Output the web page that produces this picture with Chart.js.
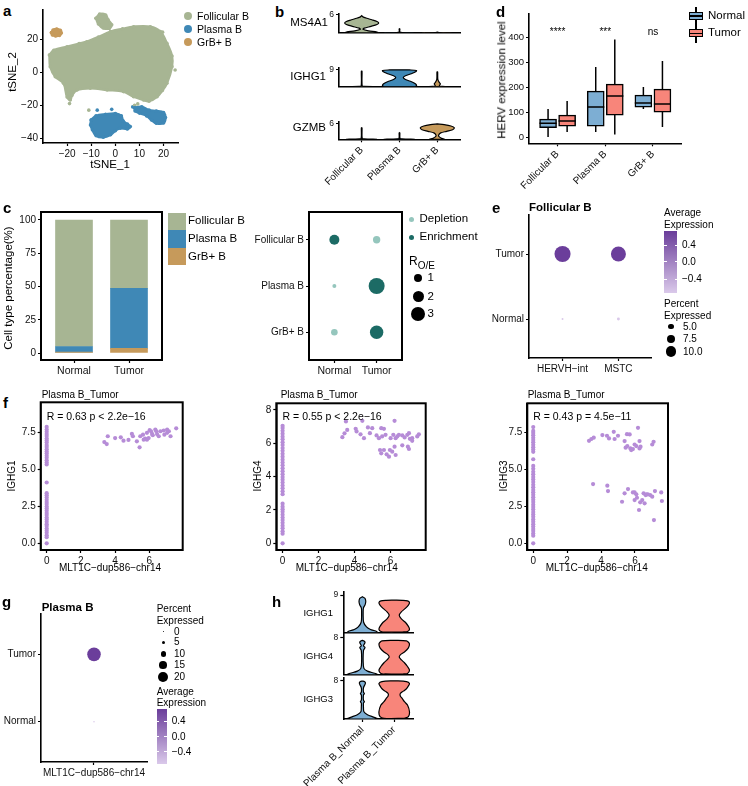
<!DOCTYPE html>
<html>
<head>
<meta charset="utf-8">
<title>HERV expression in B cells</title>
<script src="https://cdn.jsdelivr.net/npm/chart.js@4.4.1/dist/chart.umd.min.js"></script>
<style>
  html, body { margin: 0; padding: 0; background: #fff; }
  body { position: relative; width: 748px; height: 786px; overflow: hidden; font-family: "Liberation Sans", Arial, sans-serif; color: #000; }
  canvas { position: absolute; }
  .t { position: absolute; white-space: nowrap; line-height: 1; }
  .k { position: absolute; }
</style>
</head>
<body>
<script>
// ─────────────────────────────────────────
// DATA
// ─────────────────────────────────────────

const cellTypes  = ["Follicular B", "Plasma B", "GrB+ B"];
const conditions = ["Normal", "Tumor"];

// a — tSNE cluster outlines (tSNE_1, tSNE_2)
const tsneXTicks = [-20, -10, 0, 10, 20];
const tsneYTicks = [-40, -20, 0, 20];
const follicularCloud  = [[-27.3,10.6],[-25.5,13.5],[-20,15.6],[-15,17.5],[-11.8,18.7],[-7,21.5],[-2,24.8],[3,26.5],[7.6,27.8],[14.5,27.8],[18.7,24.8],[21.4,17.7],[23.5,10],[23.5,3.5],[21.4,-6.6],[19.5,-11],[17.3,-14.8],[14,-17.5],[11.7,-16.8],[7.6,-14.8],[3.4,-11.7],[-3.4,-10.7],[-10.4,-9.7],[-15.9,-10.7],[-18,-14],[-18.7,-16.8],[-20,-15],[-21.5,-6.6],[-24.9,-2.6],[-27,3.5]];
const follicularIsland = [[-8,33],[-6.5,35.5],[-4,35],[-3,32],[-1.5,29],[-2.5,26.8],[-5,27],[-7,29.5]];
const grbCloud         = [[-26.5,24.2],[-25.8,25.8],[-24.3,26.4],[-22.8,25.6],[-22.4,24],[-23.2,22.5],[-24.8,22.2],[-26.1,22.8]];
const plasmaCloud      = [[-10,-29],[-8,-26.5],[-4,-25.5],[0,-25],[2.5,-26.5],[3.2,-29.5],[5,-31.5],[6.2,-33],[5,-34.5],[2,-34],[0,-35.5],[-2,-38],[-5,-39.5],[-8,-38.5],[-9.5,-35],[-10.3,-32]];
const plasmaTail       = [[8,-21.5],[11,-21],[14,-23],[17,-23.5],[20,-24.5],[20.8,-27.5],[20,-30.8],[17,-31],[15,-29],[13,-26.5],[10,-24.8],[8.2,-23.5]];
const follicularStray  = [[-19,-19],[8,-20],[9.3,-19.2],[24.8,1.5],[19.6,24.5],[-11,-23]];
const plasmaStray      = [[-7.5,-23],[-1.5,-22.5],[7.2,-21]];

// b — stacked violins: levels (expression) and relative density width, per cell type
const ms4a1Lv = [[0,0.3,0.7,1.2,1.6,2.2,2.8,3.3,3.8,4.4,4.9,5.3,5.5,5.8],[0,0.12,0.3,1.3,1.4],[0,0.12,0.25]];
const ms4a1Wd = [[1,0.9,0.4,0.08,0.15,0.55,0.9,1,0.9,0.6,0.3,0.1,0.05,0],[0.9,0.2,0.02,0.02,0],[0.9,0.15,0]];
const ighg1Lv = [[0,0.15,0.4,8.3,8.4],[0,0.5,1.5,2.7,3.9,4.9,5.9,7.0,8.0,8.7,9.0,9.1],[0,0.15,0.5,1.5,2.5,4,7.9,8.0]];
const ighg1Wd = [[0.9,0.15,0.03,0.02,0],[0.9,1,0.95,0.7,0.35,0.22,0.35,0.7,0.95,1,0.6,0],[0.9,0.3,0.12,0.18,0.1,0.03,0.02,0]];
const gzmbLv  = [[0,0.15,0.35,4.2,4.3],[0,0.15,0.35,2.4,2.5],[0,0.4,1.0,1.6,2.4,3.0,3.6,4.3,5.0,5.5,5.75]];
const gzmbWd  = [[0.9,0.15,0.03,0.02,0],[0.9,0.15,0.03,0.02,0],[0.45,0.25,0.1,0.08,0.2,0.55,0.9,1,0.8,0.4,0]];

// d — HERV expression boxplots
const hervGroups    = [1, 2, 3];
const hervTicks     = [0, 100, 200, 300, 400];
const hervNormalLo  = [0, 20, 112];
const hervNormalQ1  = [38, 44, 120];
const hervNormalMed = [55, 120, 136];
const hervNormalQ3  = [72, 184, 168];
const hervNormalHi  = [112, 280, 200];
const hervTumorLo   = [20, 10, 40];
const hervTumorQ1   = [44, 88, 100];
const hervTumorMed  = [64, 164, 132];
const hervTumorQ3   = [88, 212, 192];
const hervTumorHi   = [144, 390, 304];
const hervSig       = ["****", "***", "ns"];

// c — cell type percentage (Normal, Tumor)
const pctTicks      = [0, 25, 50, 75, 100];
const pctGrB        = [0.7, 3.5];
const pctPlasma     = [4.2, 45.1];
const pctFollicular = [95.1, 51.4];
// c — Ro/e (rows: cell types; Normal, Tumor)
const roeNormal = [1.56, 0.25, 0.68];
const roeTumor  = [0.85, 4.0, 2.8];
const roeLegend = [1, 2, 3];

// e — Follicular B dot plot
const eGenes     = ["HERVH\u2212int", "MSTC"];
const ePctTumor  = [15, 14];
const ePctNormal = [2.1, 3.0];
const eAvgTumor  = [0.707, 0.707];
const eAvgNormal = [-0.707, -0.707];
const ePctLegend = [5, 7.5, 10];

// f — scatter plots, x = MLT1C-dup586-chr14
const fXTicks = [0, 2, 4, 6];
const f1ZeroY = [0.0,0.42,0.55,0.71,0.86,1.0,1.17,1.3,1.46,1.62,1.75,1.92,2.05,2.21,2.36,2.5,2.66,2.8,2.95,3.11,3.25,3.4,4.12,5.34,5.48,5.62,5.79,5.93,6.08,6.22,6.37,6.53,6.66,6.82,6.97,7.1,7.26,7.4,7.55,7.7,7.88];
const f1Cells = [[3.37,6.86],[3.51,6.72],[3.57,7.25],[4.0,7.13],[4.33,7.18],[4.49,6.95],[4.78,7.0],[4.98,7.41],[5.04,7.25],[5.27,6.91],[5.43,6.5],[5.47,7.25],[5.63,7.36],[5.67,7.02],[5.76,7.09],[5.86,7.48],[5.86,7.02],[5.96,7.13],[6.02,7.66],[6.1,7.59],[6.16,7.41],[6.2,7.32],[6.35,7.7],[6.41,7.59],[6.45,7.4],[6.55,7.25],[6.65,7.59],[6.84,7.64],[6.88,7.36],[7.04,7.7],[7.04,7.48],[7.14,7.59],[7.24,7.25],[7.57,7.79]];
const f2ZeroY = [0.0,0.58,0.72,0.9,1.06,1.23,1.4,1.55,1.72,1.9,2.05,2.2,2.38,2.95,3.12,3.3,3.47,3.65,3.82,3.98,4.15,4.33,4.5,4.68,4.85,5.02,5.2,5.37,5.55,5.72,5.9,6.06,6.24,6.4,6.58,6.75,6.92,7.05];
const f2Cells = [[3.32,6.37],[3.44,6.6],[3.59,6.8],[3.52,7.31],[4.06,6.87],[4.11,6.71],[4.33,6.54],[4.43,7.35],[4.52,6.31],[4.74,6.95],[4.85,6.61],[4.98,6.91],[5.22,6.47],[5.35,6.31],[5.48,6.91],[5.53,6.41],[5.63,6.87],[5.72,6.51],[5.41,5.6],[5.48,5.4],[5.63,5.6],[5.78,5.34],[5.91,5.2],[5.96,5.6],[6.09,5.5],[6.0,6.31],[6.15,6.51],[6.22,7.35],[6.28,6.31],[6.37,6.41],[6.22,5.8],[6.28,5.3],[6.46,6.51],[6.65,6.47],[6.78,6.35],[6.93,6.51],[7.07,6.27],[6.96,5.8],[7.02,5.66],[7.2,6.31],[7.2,6.15],[7.48,6.41],[7.57,6.54],[6.65,5.88],[7.02,6.61]];
const f3ZeroY = [0.0,0.52,0.66,0.83,0.98,1.14,1.3,1.47,1.62,1.8,1.96,2.12,2.3,2.46,2.62,2.8,2.96,3.13,3.3,3.46,3.62,3.8,3.97,4.15,4.33,4.5,4.68,4.85,5.05,5.25,5.7,6.2,6.36,6.52,6.68,6.85,7.0,7.15,7.32,7.48,7.62,7.88];
const f3Cells = [[3.29,6.95],[3.43,7.07],[3.57,7.16],[4.08,7.34],[4.35,7.29],[4.47,7.11],[4.75,7.56],[4.8,7.07],[5.0,7.29],[5.39,6.93],[5.45,6.48],[5.55,6.59],[5.53,7.4],[5.69,7.38],[5.73,6.43],[5.78,6.32],[5.88,6.39],[5.98,6.7],[6.08,6.59],[6.18,7.83],[6.27,6.93],[6.27,6.43],[6.33,6.55],[7.02,6.7],[7.1,6.88],[3.53,4.02],[4.37,3.91],[4.41,3.54],[5.24,2.82],[5.39,3.39],[5.59,3.68],[5.88,3.45],[5.98,3.45],[5.98,2.93],[6.12,3.09],[6.24,2.26],[6.31,2.78],[6.43,2.93],[6.51,3.39],[6.57,2.71],[6.63,3.27],[6.76,3.32],[6.9,3.27],[7.02,3.16],[7.12,1.58],[7.18,3.54],[7.55,3.45],[7.59,2.87],[6.67,3.32],[6.08,3.32]];
const fStats = ["R = 0.63 p < 2.2e\u221216", "R = 0.55 p < 2.2e\u221216", "R = 0.43 p = 4.5e\u221211"];

// g — Plasma B dot plot
const gGene      = "MLT1C\u2212dup586\u2212chr14";
const gPct       = [0.2, 29];      // Normal, Tumor
const gAvg       = [-0.707, 0.707];
const gPctLegend = [0, 5, 10, 15, 20];

// h — Plasma B violins, Normal / Tumor
const hGroups  = ["Plasma B_Normal", "Plasma B_Tumor"];
const hIghg1Lv = [[0,0.08,0.4,0.76,1.4,2.5,4.8,5.95,6.7,7.5,8.2,8.6],[0.15,0.3,0.8,1.5,2.5,3.3,4.2,5.0,5.8,6.6,7.2,7.6,7.75,7.8]];
const hIghg1Wd = [[1,1,0.87,0.53,0.27,0.08,0.05,0.07,0.18,0.22,0.17,0],[0.53,0.87,1,0.93,0.73,0.47,0.33,0.47,0.73,0.93,1,0.87,0.53,0]];
const hIghg4Lv = [[0,0.07,0.35,0.8,1.4,3,5.2,5.6,5.9,6.25,6.9,7.2,7.4],[0.2,0.28,1.0,1.8,2.6,3.2,3.8,4.3,4.9,5.8,6.6,7.0,7.3,7.4]];
const hIghg4Wd = [[1,1,0.8,0.33,0.1,0.05,0.07,0.13,0.17,0.07,0.17,0.13,0],[0.6,0.87,1,0.87,0.67,0.47,0.33,0.4,0.67,0.93,1,0.93,0.8,0]];
const hIghg3Lv = [[0,0.07,0.4,0.9,1.5,2.5,3.3,3.6,3.9,5.0,5.3,5.6,6.5,7.2,7.5,7.8,7.9],[0.14,0.5,1.5,2.9,3.6,4.25,4.8,5.3,5.8,6.3,6.9,7.4,7.8,7.95]];
const hIghg3Wd = [[1,1,0.73,0.33,0.1,0.07,0.07,0.13,0.07,0.07,0.13,0.07,0.07,0.17,0.2,0.13,0],[0.67,0.93,1,0.87,0.67,0.53,0.4,0.4,0.6,0.8,0.93,1,0.8,0]];

// ─────────────────────────────────────────
// STYLE & HELPERS
// ─────────────────────────────────────────

const FONT = '"Liberation Sans", Arial, sans-serif';
const COL = {
  fol: "#a7b593", pla: "#3f88b6", grb: "#c69a5b",
  normal: "#7daed3", tumor: "#f8857a",
  depl: "#95c6bd", enr: "#1c6b65",
  dot: "#b68cd7", hi: "#6a3d9a", lo: "#dac9ea"
};

Chart.defaults.font.family = FONT;
Chart.defaults.color = "#111";
Chart.defaults.animation = false;
Chart.defaults.plugins.legend.display = false;
Chart.defaults.plugins.tooltip.enabled = false;

const minus = v => String(v).replace("-", "\u2212");
const hex = h => [1, 3, 5].map(i => parseInt(h.slice(i, i + 2), 16));
function mix(a, b, t) {
  const pa = hex(a), pb = hex(b);
  return "rgb(" + pa.map((c, i) => Math.round(c + (pb[i] - c) * t)).join(",") + ")";
}
const expColor   = v => mix(COL.lo, COL.hi, Math.min(1, Math.max(0, (v + 0.72) / 1.44)));
const roeRadius  = v => 4 * Math.sqrt(v);
const pctRadiusE = v => Math.max(0.6, 0.55 * v - 0.2);
const pctRadiusG = v => 0.7 + 0.21 * v;

function lin(min, max, tickVals, ex = {}) {
  const ticks = {color: "#111", font: {size: ex.fs || 10}, padding: 2, autoSkip: false,
                 maxRotation: ex.rot || 0, minRotation: ex.rot || 0};
  if (ex.cb) ticks.callback = ex.cb;
  return {
    type: "linear", min, max, offset: false, reverse: !!ex.reverse,
    border: {display: true, color: "#000", width: 1.6},
    grid: {display: true, offset: false, drawOnChartArea: false, drawTicks: true,
           tickLength: 3, tickWidth: 1.2, tickColor: "#000", color: "#000"},
    ticks,
    afterBuildTicks: s => { s.ticks = tickVals.map(v => ({value: v})); }
  };
}

// place a chart so that its plot area lands on `area` = [x0, y0, x1, y1]
function mk(area, yW, xH, pad, cfg, plugins) {
  const p = Object.assign({l: 0, t: 8, r: 8, b: 4}, pad);
  const left = Math.round(area[0] - yW - p.l), top = Math.round(area[1] - p.t);
  const w = Math.round(area[2] + p.r - left), h = Math.round(area[3] + xH + p.b - top);
  const cv = document.createElement("canvas");
  cv.width = w; cv.height = h;
  cv.style.left = left + "px"; cv.style.top = top + "px";
  document.body.appendChild(cv);
  const o = cfg.options;
  o.responsive = false;
  o.animation = false;
  o.layout = {padding: {left: area[0] - yW - left, top: area[1] - top,
                        right: left + w - area[2], bottom: top + h - area[3] - xH}};
  o.scales.x.afterFit = s => { s.height = xH; };
  o.scales.y.afterFit = s => { s.width = yW; };
  cfg.plugins = plugins || [];
  return new Chart(cv, cfg);
}

const framed = {
  id: "framed",
  afterDraw(chart) {
    const a = chart.chartArea, c = chart.ctx;
    c.save(); c.strokeStyle = "#000"; c.lineWidth = 2;
    c.strokeRect(a.left, a.top, a.right - a.left, a.bottom - a.top);
    c.restore();
  }
};
function notes(items) {
  return {
    id: "notes",
    afterDatasetsDraw(chart) {
      const {ctx, scales} = chart;
      ctx.save();
      items.forEach(it => {
        ctx.font = (it.size || 10) + "px " + FONT;
        ctx.fillStyle = "#000";
        ctx.textAlign = it.align || "center";
        ctx.textBaseline = "middle";
        ctx.fillText(it.text, scales.x.getPixelForValue(it.x), scales.y.getPixelForValue(it.y));
      });
      ctx.restore();
    }
  };
}

const pts = arr => arr.map(p => ({x: p[0], y: p[1]}));
function blob(poly, color) {
  const d = pts(poly); d.push(d[0]);
  return {data: d, showLine: true, fill: "shape", tension: 0.35, backgroundColor: color,
          borderColor: color, borderWidth: 2.5, pointRadius: 1.8, pointBorderWidth: 0};
}
function dots(arr, color, r) {
  return {data: pts(arr), backgroundColor: color, pointRadius: r, borderWidth: 0};
}
function violin(c, lv, wd, half, color) {
  const r = lv.map((v, i) => ({x: c + wd[i] * half, y: v}));
  const l = lv.map((v, i) => ({x: c - wd[i] * half, y: v})).reverse();
  return {data: r.concat(l, [r[0]]), showLine: true, fill: "shape", tension: 0.3,
          backgroundColor: color, borderColor: "#000", borderWidth: 1.2, pointRadius: 0};
}
function segs(list, order) {
  const data = [];
  list.forEach(([x1, y1, x2, y2]) => data.push({x: x1, y: y1}, {x: x2, y: y2}, {x: x2, y: null}));
  return {type: "scatter", data, showLine: true, spanGaps: false, borderColor: "#000",
          borderWidth: 1.5, pointRadius: 0, order};
}

function label(text, x, y, opt = {}) {
  const d = document.createElement("div");
  d.className = "t";
  if (opt.html) d.innerHTML = text; else d.textContent = text;
  d.style.left = x + "px"; d.style.top = y + "px";
  d.style.fontSize = (opt.size || 11) + "px";
  if (opt.bold) d.style.fontWeight = "bold";
  const ax = opt.rot ? "-50%" : opt.align === "right" ? "-100%" : opt.align === "center" ? "-50%" : "0";
  d.style.transform = "translate(" + ax + ", -50%)" + (opt.rot ? " rotate(-90deg)" : "");
  document.body.appendChild(d);
}
function rect(x, y, w, h, bg, extra) {
  const d = document.createElement("div");
  d.className = "k";
  Object.assign(d.style, {left: x + "px", top: y + "px", width: w + "px", height: h + "px", background: bg}, extra || {});
  document.body.appendChild(d);
}
const disc = (x, y, r, bg) => rect(x - r, y - r, 2 * r, 2 * r, bg, {borderRadius: "50%"});
function colorbar(x, y, w, h, ticksY) {
  rect(x, y, w, h, "linear-gradient(to top, " + COL.lo + ", " + COL.hi + ")");
  ticksY.forEach(ty => { rect(x, ty - 0.5, 2.5, 1, "#fff"); rect(x + w - 2.5, ty - 0.5, 2.5, 1, "#fff"); });
}

// ─────────────────────────────────────────
// a — tSNE
// ─────────────────────────────────────────

mk([43, 10, 178, 143], 30, 24, {}, {
  type: "scatter",
  data: {datasets: [
    blob(follicularCloud, COL.fol), blob(follicularIsland, COL.fol), blob(grbCloud, COL.grb),
    blob(plasmaCloud, COL.pla), blob(plasmaTail, COL.pla),
    dots(follicularStray, COL.fol, 1.8), dots(plasmaStray, COL.pla, 1.8)
  ]},
  options: {scales: {x: lin(-30, 26, tsneXTicks, {cb: minus}), y: lin(-43, 38, tsneYTicks, {cb: minus})}}
});

// ─────────────────────────────────────────
// b — stacked violins
// ─────────────────────────────────────────

const bColors = [COL.fol, COL.pla, COL.grb];
function bRow(area, top, tick, lv, wd, last) {
  mk(area, 12, last ? 50 : 0, {l: last ? 40 : 0, b: last ? 4 : 7, r: 4}, {
    type: "scatter",
    data: {datasets: lv.map((l, i) => violin(i + 1, l, wd[i], 0.45, bColors[i]))},
    options: {scales: {
      x: lin(0.4, 3.6, last ? [1, 2, 3] : [], {cb: v => cellTypes[v - 1], rot: 45}),
      y: lin(0, top, [tick], {fs: 8.5})
    }}
  });
}
bRow([339, 13.5, 460, 33.3], 6.5, 6, ms4a1Lv, ms4a1Wd, false);
bRow([339, 68.3, 460, 86.7], 9.9, 9, ighg1Lv, ighg1Wd, false);
bRow([339, 121.7, 460, 139.3], 6.6, 6, gzmbLv, gzmbWd, true);

// ─────────────────────────────────────────
// d — HERV boxplots
// ─────────────────────────────────────────

const hervSets = [
  {lo: hervNormalLo, q1: hervNormalQ1, med: hervNormalMed, q3: hervNormalQ3, hi: hervNormalHi, color: COL.normal, off: -0.2},
  {lo: hervTumorLo,  q1: hervTumorQ1,  med: hervTumorMed,  q3: hervTumorQ3,  hi: hervTumorHi,  color: COL.tumor,  off: 0.2}
];
const dsD = [];
hervSets.forEach(s => {
  const xs = hervGroups.map(g => g + s.off);
  dsD.push({type: "bar", data: xs.map((x, i) => ({x, y: [s.q1[i], s.q3[i]]})), backgroundColor: s.color,
            borderColor: "#000", borderWidth: 1.5, borderSkipped: false, barThickness: 17, grouped: false, order: 1});
  dsD.push(segs(xs.map((x, i) => [x, s.lo[i], x, s.hi[i]]), 3));
  dsD.push(segs(xs.map((x, i) => [x - 0.18, s.med[i], x + 0.18, s.med[i]]), 0));
});
mk([529, 13.3, 681.5, 143.3], 28, 50, {l: 30}, {
  type: "scatter",
  data: {datasets: dsD},
  options: {scales: {x: lin(0.4, 3.6, hervGroups, {cb: v => cellTypes[v - 1], rot: 45}), y: lin(-25, 495, hervTicks, {fs: 9.5})}}
}, [notes(hervGroups.map((g, i) => ({x: g, y: 418, text: hervSig[i], size: 10})))]);

// ─────────────────────────────────────────
// c — composition and Ro/e
// ─────────────────────────────────────────

const cStack = [pctGrB, pctPlasma, pctFollicular];
const cColors = [COL.grb, COL.pla, COL.fol];
let cBase = [0, 0];
const dsC = cStack.map((vals, k) => {
  const d = vals.map((v, i) => ({x: i + 1, y: [cBase[i], cBase[i] + v]}));
  cBase = cBase.map((b, i) => b + vals[i]);
  return {type: "bar", data: d, backgroundColor: cColors[k], borderWidth: 0, barThickness: 37, grouped: false};
});
mk([41, 212, 162, 360], 30, 16, {}, {
  type: "scatter",
  data: {datasets: dsC},
  options: {scales: {x: lin(0.4, 2.6, [1, 2], {cb: v => conditions[v - 1], fs: 10.5}), y: lin(-5.25, 106, pctTicks)}}
}, [framed]);

const roeData = [], roeR = [], roeC = [];
cellTypes.forEach((c, i) => {
  [roeNormal[i], roeTumor[i]].forEach((v, j) => {
    roeData.push({x: j + 1, y: i + 1});
    roeR.push(roeRadius(v));
    roeC.push(v > 1 ? COL.enr : COL.depl);
  });
});
mk([309, 212, 402, 360], 68, 16, {}, {
  type: "scatter",
  data: {datasets: [{data: roeData, pointRadius: roeR, backgroundColor: roeC, borderWidth: 0}]},
  options: {scales: {
    x: lin(0.4, 2.6, [1, 2], {cb: v => conditions[v - 1], fs: 10.5}),
    y: lin(0.4, 3.6, [1, 2, 3], {cb: v => cellTypes[v - 1], fs: 10, reverse: true})
  }}
}, [framed]);

// ─────────────────────────────────────────
// e — Follicular B dot plot
// ─────────────────────────────────────────

const eData = [], eR = [], eC = [];
eGenes.forEach((g, i) => {
  eData.push({x: i + 1, y: 2}); eR.push(pctRadiusE(ePctTumor[i]));  eC.push(expColor(eAvgTumor[i]));
  eData.push({x: i + 1, y: 1}); eR.push(pctRadiusE(ePctNormal[i])); eC.push(expColor(eAvgNormal[i]));
});
mk([529, 215, 652, 358], 50, 16, {}, {
  type: "scatter",
  data: {datasets: [{data: eData, pointRadius: eR, backgroundColor: eC, borderWidth: 0}]},
  options: {scales: {
    x: lin(0.4, 2.6, [1, 2], {cb: v => eGenes[v - 1], fs: 10}),
    y: lin(0.4, 2.6, [1, 2], {cb: v => conditions[v - 1], fs: 10})
  }}
});

// ─────────────────────────────────────────
// f — scatter plots
// ─────────────────────────────────────────

function fPanel(area, yMin, yMax, yTicks, zeroY, cells, stat, statY, fixed) {
  mk(area, 26, 20, {}, {
    type: "scatter",
    data: {datasets: [
      {data: zeroY.map(y => ({x: 0, y})), backgroundColor: COL.dot, pointRadius: 2.1, borderWidth: 0},
      dots(cells, COL.dot, 2.1)
    ]},
    options: {scales: {
      x: lin(-0.35, 7.95, fXTicks, {fs: 10}),
      y: lin(yMin, yMax, yTicks, {fs: 10, cb: v => fixed ? v.toFixed(1) : String(v)})
    }}
  }, [framed, notes([{x: 0, y: statY, text: stat, align: "left", size: 10.5}])]);
}
fPanel([40.7, 402.3, 182.7, 550], -0.45, 9.55, [0, 2.5, 5, 7.5], f1ZeroY, f1Cells, fStats[0], 8.55, true);
fPanel([276.3, 403.3, 425.7, 550], -0.4, 8.4, [0, 2, 4, 6, 8], f2ZeroY, f2Cells, fStats[1], 7.56, false);
fPanel([527.3, 403.3, 668, 550], -0.45, 9.49, [0, 2.5, 5, 7.5], f3ZeroY, f3Cells, fStats[2], 8.55, true);

// ─────────────────────────────────────────
// g — Plasma B dot plot
// ─────────────────────────────────────────

mk([41, 614, 147, 762], 42, 16, {r: 20}, {
  type: "scatter",
  data: {datasets: [{
    data: [{x: 1, y: 1}, {x: 1, y: 2}],
    pointRadius: gPct.map(pctRadiusG),
    backgroundColor: gAvg.map(expColor), borderWidth: 0
  }]},
  options: {scales: {
    x: lin(0.4, 1.6, [1], {cb: () => gGene, fs: 10}),
    y: lin(0.4, 2.6, [1, 2], {cb: v => conditions[v - 1], fs: 10})
  }}
});

// ─────────────────────────────────────────
// h — Plasma B violins
// ─────────────────────────────────────────

const hColors = [COL.normal, COL.tumor];
function hRow(area, top, tick, lv, wd, last) {
  mk(area, 10, last ? 68 : 0, {l: last ? 70 : 0, b: last ? 4 : 7, r: 6}, {
    type: "scatter",
    data: {datasets: lv.map((l, i) => violin(i + 1, l, wd[i], 0.48, hColors[i]))},
    options: {scales: {
      x: lin(0.4, 2.6, last ? [1, 2] : [], {cb: v => hGroups[v - 1], rot: 45}),
      y: lin(0, top, [tick], {fs: 8.5})
    }}
  });
}
hRow([343.3, 591.7, 413.3, 632.7], 9.8, 9, hIghg1Lv, hIghg1Wd, false);
hRow([343.3, 634.3, 413.3, 675], 8.7, 8, hIghg4Lv, hIghg4Wd, false);
hRow([343.3, 677.7, 413.3, 719], 8.6, 8, hIghg3Lv, hIghg3Wd, true);

// ─────────────────────────────────────────
// TEXT & LEGENDS
// ─────────────────────────────────────────

[["a", 3, 10], ["b", 275, 11], ["d", 496, 11], ["c", 3, 207], ["e", 492, 207],
 ["f", 3, 402], ["g", 2, 601], ["h", 272, 601]].forEach(([s, x, y]) => label(s, x, y, {size: 15, bold: true}));

// a
label("tSNE_2", 12.5, 72, {rot: true, size: 11.5});
label("tSNE_1", 110, 165, {align: "center", size: 11.5});
[[COL.fol, 15.7], [COL.pla, 29], [COL.grb, 41.7]].forEach(([c, y], i) => {
  disc(188, y, 4, c);
  label(cellTypes[i], 197, y, {size: 10.5});
});

// b
label("MS4A1", 328, 22.7, {align: "right", size: 11.5});
label("IGHG1", 326, 76.7, {align: "right", size: 11.5});
label("GZMB", 326, 128.3, {align: "right", size: 11.5});

// d
label("HERV expression level", 501.5, 80, {rot: true, size: 11.5});
[[COL.normal, 16], [COL.tumor, 33.3]].forEach(([c, y], i) => {
  rect(695.3, y - 9.5, 1.5, 19, "#000");
  rect(689, y - 4, 14, 8, c, {border: "1.5px solid #000", boxSizing: "border-box"});
  rect(689, y - 0.75, 14, 1.5, "#000");
  label(conditions[i], 708, y, {size: 11.5});
});

// c
label("Cell type percentage(%)", 8.5, 288, {rot: true, size: 11.5});
[[COL.fol, 212.7, 17.3], [COL.pla, 230, 18.3], [COL.grb, 248.3, 16.7]].forEach(([c, y, h], i) => {
  rect(168, y, 18, h, c);
  label(cellTypes[i], 188, y + h / 2, {size: 11.5});
});
disc(411.7, 219.3, 2.6, COL.depl); label("Depletion", 419.5, 219.3, {size: 11.5});
disc(411.7, 237.3, 2.6, COL.enr);  label("Enrichment", 419.5, 237.3, {size: 11.5});
label('R<sub style="font-size:10px">O/E</sub>', 409, 263, {html: true, size: 12});
[278.3, 296.7, 314.3].forEach((y, i) => {
  disc(418.3, y, roeRadius(roeLegend[i]), "#000");
  label(String(roeLegend[i]), 427.5, y, {size: 11.5});
});

// e
label("Follicular B", 529, 208.3, {bold: true, size: 11.5});
label("Average", 664, 213.3, {size: 10});
label("Expression", 664, 225, {size: 10});
colorbar(664, 231, 13, 61.7, [245, 261.7, 279.3]);
[["0.4", 245], ["0.0", 261.7], ["\u22120.4", 279.3]].forEach(([s, y]) => label(s, 682, y, {size: 10}));
label("Percent", 664, 304, {size: 10});
label("Expressed", 664, 315.7, {size: 10});
[326.7, 339, 351.7].forEach((y, i) => {
  disc(671, y, pctRadiusE(ePctLegend[i]), "#000");
  label(ePctLegend[i].toFixed(1), 683, y, {size: 10});
});

// f
[41.7, 280.7, 527.7].forEach(x => label("Plasma B_Tumor", x, 395, {size: 10}));
[["IGHG1", 11.7], ["IGHG4", 258.3], ["IGHG3", 504]].forEach(([s, x]) => label(s, x, 476, {rot: true, size: 10}));
[110, 346.7, 596.7].forEach(x => label(gGene, x, 568.3, {align: "center", size: 10}));

// g
label("Plasma B", 41.7, 607.7, {bold: true, size: 11.5});
label("Percent", 156.7, 609, {size: 10});
label("Expressed", 156.7, 620.7, {size: 10});
[631.7, 642.3, 654, 665, 676.7].forEach((y, i) => {
  disc(163.3, y, pctRadiusG(gPctLegend[i]), "#000");
  label(String(gPctLegend[i]), 174, y, {size: 10});
});
label("Average", 156.7, 691.7, {size: 10});
label("Expression", 156.7, 703.3, {size: 10});
colorbar(156.7, 709, 10, 55, [721, 736.7, 751.7]);
[["0.4", 721], ["0.0", 736.7], ["\u22120.4", 751.7]].forEach(([s, y]) => label(s, 171.7, y, {size: 10}));

// h
label("IGHG1", 333, 613.3, {align: "right", size: 9.5});
label("IGHG4", 333, 656, {align: "right", size: 9.5});
label("IGHG3", 333, 699, {align: "right", size: 9.5});
</script>
</body>
</html>
